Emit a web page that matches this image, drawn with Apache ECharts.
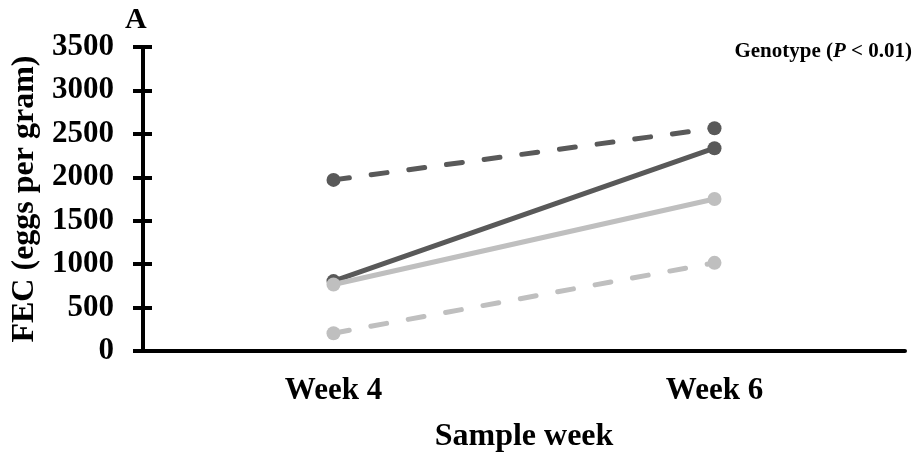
<!DOCTYPE html>
<html><head><meta charset="utf-8">
<script src="https://cdn.jsdelivr.net/npm/echarts@6/dist/echarts.min.js"></script>
<style>html,body{margin:0;padding:0;background:#fff}#c{width:916px;height:454px}</style>
</head><body><div id="c"></div>
<script>
var categories = ['Week 4', 'Week 6'];
var darkDashed = [1970, 2565];
var darkSolid = [805, 2335];
var lightSolid = [765, 1750];
var lightDashed = [205, 1015];
var yTicks = {min: 0, max: 3500, interval: 500};

var FONT = '"Liberation Serif", "Times New Roman", serif';
var DARK = '#595959', LIGHT = '#bfbfbf';

function mk(name, data, color, dashed, z) {
  return {
    name: name, type: 'line', data: data, z: z,
    symbol: 'circle', symbolSize: 14,
    itemStyle: {color: color},
    lineStyle: {color: color, width: 5, type: dashed ? [16, 22] : 'solid', cap: 'round'},
    animation: false
  };
}

var chart = echarts.init(document.getElementById('c'), null, {renderer: 'canvas'});
chart.setOption({
  backgroundColor: '#fff',
  animation: false,
  grid: {left: 143, right: 11, top: 47, bottom: 103, containLabel: false, outerBoundsMode: 'none'},
  xAxis: {
    type: 'category', data: categories, boundaryGap: true,
    axisLine: {lineStyle: {color: '#000', width: 4}},
    axisTick: {show: false},
    axisLabel: {color: '#000', fontFamily: FONT, fontWeight: 'bold', fontSize: 31, margin: 24},
    name: 'Sample week', nameLocation: 'middle', nameGap: 70,
    nameTextStyle: {color: '#000', fontFamily: FONT, fontWeight: 'bold', fontSize: 32}
  },
  yAxis: [{
    type: 'value', min: yTicks.min, max: yTicks.max, interval: yTicks.interval,
    splitLine: {show: false},
    axisLine: {show: true, lineStyle: {color: '#000', width: 4}},
    axisTick: {show: true, length: 10, lineStyle: {color: '#000', width: 4}},
    axisLabel: {color: '#000', fontFamily: FONT, fontWeight: 'bold', fontSize: 31, margin: 29,
      formatter: function (v) { return String(v); }},
    name: 'FEC (eggs per gram)', nameLocation: 'middle', nameGap: 100, nameRotate: 90,
    nameTextStyle: {color: '#000', fontFamily: FONT, fontWeight: 'bold', fontSize: 32}
  }, {
    type: 'value', position: 'left', min: yTicks.min, max: yTicks.max, interval: yTicks.interval,
    splitLine: {show: false},
    axisLine: {show: false},
    axisTick: {show: true, inside: true, length: 9, lineStyle: {color: '#000', width: 4}},
    axisLabel: {show: false}
  }],
  series: [
    mk('dark dashed', darkDashed, DARK, true, 2),
    mk('dark solid', darkSolid, DARK, false, 3),
    mk('light solid', lightSolid, LIGHT, false, 4),
    mk('light dashed', lightDashed, LIGHT, true, 5)
  ],
  graphic: [
    {type: 'text', left: 125, top: 5, style: {text: 'A', fontFamily: FONT, fontWeight: 'bold', fontSize: 30, fill: '#000'}},
    {type: 'text', right: 4, top: 41, style: {
      text: '{n|Genotype (}{i|P}{n| < 0.01)}',
      rich: {
        n: {fontFamily: FONT, fontWeight: 'bold', fontSize: 21, fill: '#000'},
        i: {fontFamily: FONT, fontWeight: 'bold', fontStyle: 'italic', fontSize: 21, fill: '#000'}
      }
    }}
  ]
});
</script></body></html>
